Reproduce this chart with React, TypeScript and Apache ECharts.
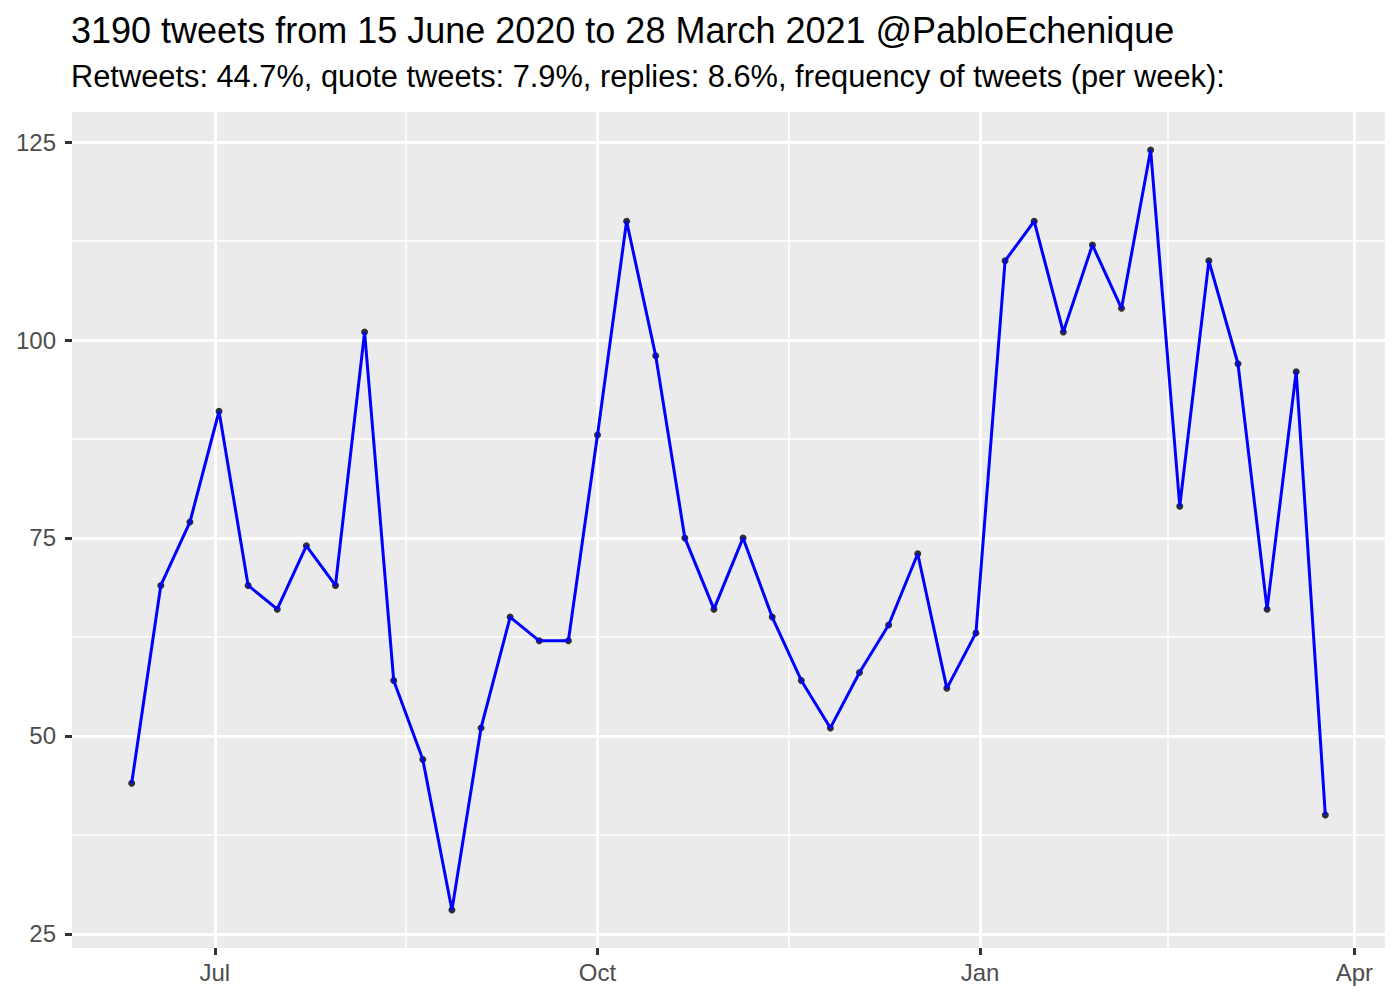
import React, { useEffect, useRef } from "react";
import * as echarts from "echarts";

const weekStarts = [
  "2020-06-11", "2020-06-18", "2020-06-25", "2020-07-02", "2020-07-09", "2020-07-16",
  "2020-07-23", "2020-07-30", "2020-08-06", "2020-08-13", "2020-08-20", "2020-08-27",
  "2020-09-03", "2020-09-10", "2020-09-17", "2020-09-24", "2020-10-01", "2020-10-08",
  "2020-10-15", "2020-10-22", "2020-10-29", "2020-11-05", "2020-11-12", "2020-11-19",
  "2020-11-26", "2020-12-03", "2020-12-10", "2020-12-17", "2020-12-24", "2020-12-31",
  "2021-01-07", "2021-01-14", "2021-01-21", "2021-01-28", "2021-02-04", "2021-02-11",
  "2021-02-18", "2021-02-25", "2021-03-04", "2021-03-11", "2021-03-18", "2021-03-25",
];
const tweetsPerWeek = [
  44, 69, 77, 91, 69, 66, 74, 69, 101, 57, 47, 28, 51, 65, 62, 62, 88, 115, 98, 75, 66,
  75, 65, 57, 51, 58, 64, 73, 56, 63, 110, 115, 101, 112, 104, 124, 79, 110, 97, 66, 96, 40,
];
const xBreaks = ["2020-07-01", "2020-10-01", "2021-01-01", "2021-04-01"];
const xBreakLabels = ["Jul", "Oct", "Jan", "Apr"];
const yBreaks = [25, 50, 75, 100, 125];
const titleText = "3190 tweets from 15 June 2020 to 28 March 2021 @PabloEchenique";
const subtitleText =
  "Retweets: 44.7%, quote tweets: 7.9%, replies: 8.6%, frequency of tweets (per week):";

const ts = (s: string) =>
  Date.UTC(+s.slice(0, 4), +s.slice(5, 7) - 1, +s.slice(8, 10));

export default function App() {
  const ref = useRef<HTMLDivElement>(null);
  useEffect(() => {
    if (!ref.current) return;
    const chart = echarts.init(ref.current, undefined, { renderer: "svg" });
    const xs = weekStarts.map(ts);
    const xMinD = Math.min(...xs);
    const xMaxD = Math.max(...xs);
    const xPad = (xMaxD - xMinD) * 0.05;
    const yMinD = Math.min(...tweetsPerWeek);
    const yMaxD = Math.max(...tweetsPerWeek);
    const yPad = (yMaxD - yMinD) * 0.05;
    const xMajor = xBreaks.map(ts);
    const xMinor = xMajor.slice(1).map((v, i) => (v + xMajor[i]) / 2);
    const yMinor = yBreaks.slice(1).map((v, i) => (v + yBreaks[i]) / 2);
    const data = xs.map((x, i) => [x, tweetsPerWeek[i]]);
    const font = "Liberation Sans, Arial, Helvetica, sans-serif";
    const common = {
      min: xMinD - xPad,
      max: xMaxD + xPad,
      gridIndex: 0,
    };
    chart.setOption({
      animation: false,
      backgroundColor: "#FFFFFF",
      title: [
        {
          text: titleText,
          left: 71,
          top: 12,
          padding: 0,
          textStyle: { fontFamily: font, fontSize: 36, fontWeight: "normal", color: "#000000" },
        },
        {
          text: subtitleText,
          left: 71,
          top: 61,
          padding: 0,
          textStyle: { fontFamily: font, fontSize: 30.8, fontWeight: "normal", color: "#000000" },
        },
      ],
      grid: {
        left: 72,
        right: 15,
        top: 112,
        bottom: 52,
        show: true,
        backgroundColor: "#EBEBEB",
        borderWidth: 0,
      },
      xAxis: [
        {
          ...common,
          type: "value",
          position: "bottom",
          axisLine: { show: false },
          axisTick: {
            show: true,
            customValues: xMajor,
            length: 7,
            lineStyle: { color: "#333333", width: 3 },
          },
          axisLabel: {
            customValues: xMajor,
            formatter: (v: number) => {
              const i = xMajor.findIndex((m) => Math.abs(m - v) < 3600000);
              return i >= 0 ? xBreakLabels[i] : "";
            },
            color: "#4D4D4D",
            fontFamily: font,
            fontSize: 24,
            margin: 12,
            hideOverlap: false,
          },
          splitLine: { show: true, lineStyle: { color: "#FFFFFF", width: 3 } },
        },
        {
          ...common,
          type: "value",
          position: "bottom",
          axisLine: { show: false },
          axisTick: { show: false, customValues: xMinor },
          axisLabel: { show: false, customValues: xMinor },
          splitLine: { show: true, lineStyle: { color: "#FFFFFF", width: 1.5 } },
        },
      ],
      yAxis: [
        {
          type: "value",
          min: yMinD - yPad,
          max: yMaxD + yPad,
          position: "left",
          axisLine: { show: false },
          axisTick: {
            show: true,
            customValues: yBreaks,
            length: 7,
            lineStyle: { color: "#333333", width: 3 },
          },
          axisLabel: {
            customValues: yBreaks,
            color: "#4D4D4D",
            fontFamily: font,
            fontSize: 24,
            margin: 16,
          },
          splitLine: { show: true, lineStyle: { color: "#FFFFFF", width: 3 } },
        },
        {
          type: "value",
          min: yMinD - yPad,
          max: yMaxD + yPad,
          position: "left",
          axisLine: { show: false },
          axisTick: { show: false, customValues: yMinor },
          axisLabel: { show: false, customValues: yMinor },
          splitLine: { show: true, lineStyle: { color: "#FFFFFF", width: 1.5 } },
        },
      ],
      series: [
        {
          type: "scatter",
          data,
          xAxisIndex: 0,
          yAxisIndex: 0,
          symbol: "circle",
          symbolSize: 7,
          itemStyle: { color: "#000000" },
          z: 2,
          silent: true,
        },
        {
          type: "line",
          data,
          xAxisIndex: 0,
          yAxisIndex: 0,
          showSymbol: false,
          symbol: "none",
          lineStyle: { color: "#0000FF", width: 3 },
          z: 3,
          silent: true,
        },
      ],
    });
    return () => chart.dispose();
  }, []);
  return (
    <div
      ref={ref}
      style={{ position: "fixed", left: 0, top: 0, width: 1400, height: 1000 }}
    />
  );
}
